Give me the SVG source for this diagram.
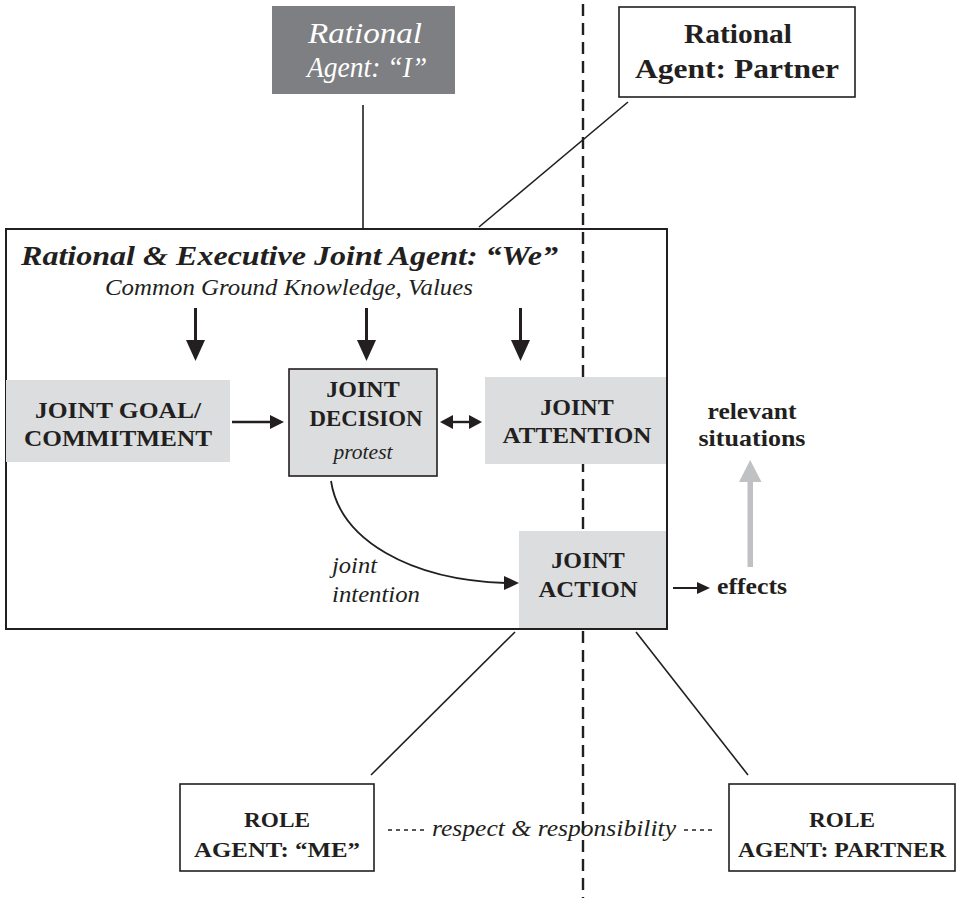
<svg xmlns="http://www.w3.org/2000/svg" width="968" height="898" viewBox="0 0 968 898">
<defs>
<style>
text{font-family:"Liberation Serif","Times New Roman",serif;fill:#231f20}
.b{font-weight:bold}
.i{font-style:italic}
.ln{stroke:#231f20;stroke-width:1.6;fill:none}
.gbox{fill:#dcdddf}
.wbox{fill:#fff;stroke:#231f20;stroke-width:1.6}
.cap{font-weight:bold;font-size:24px;text-anchor:middle}
.lab{font-style:italic;font-size:23px}
.rl{font-weight:bold;font-size:22px;text-anchor:middle}
</style>
</defs>
<rect width="968" height="898" fill="#fff"/>

<g id="divider"><line x1="583" y1="4" x2="583" y2="898" stroke="#231f20" stroke-width="2.4" stroke-dasharray="12,7"/></g>

<g id="connectors">
<line class="ln" x1="363" y1="105" x2="363" y2="229"/>
<line class="ln" x1="628" y1="102" x2="479" y2="227"/>
<line class="ln" x1="515" y1="632" x2="371" y2="775"/>
<line class="ln" x1="636" y1="632" x2="748" y2="775"/>
<g fill="#231f20">
<rect x="194" y="308" width="3" height="34"/><path d="M186,340L205,340L195.5,361z"/>
<rect x="365" y="308" width="3" height="34"/><path d="M357,340L376,340L366.5,361z"/>
<rect x="519" y="308" width="3" height="34"/><path d="M511,340L530,340L520.5,361z"/>
</g>
<line x1="232" y1="422" x2="272" y2="422" stroke="#231f20" stroke-width="2.4"/>
<path d="M270,415L284,422L270,429z" fill="#231f20"/>
<line x1="450" y1="422" x2="472" y2="422" stroke="#231f20" stroke-width="2.4"/>
<path d="M453,415L440,422L453,429z" fill="#231f20"/>
<path d="M469,415L482,422L469,429z" fill="#231f20"/>
<path d="M331,481C340,540 410,580 506,583" fill="none" stroke="#231f20" stroke-width="1.8"/>
<path d="M504,576L519,583L504,590z" fill="#231f20"/>
<line x1="673" y1="588" x2="699" y2="588" stroke="#231f20" stroke-width="2"/>
<path d="M697,582L710,588L697,594z" fill="#231f20"/>
<rect x="747.5" y="480" width="5.5" height="87" fill="#c0c1c3"/>
<path d="M739,482L761.5,482L750.2,460z" fill="#c0c1c3"/>
<line x1="388" y1="830" x2="426" y2="830" stroke="#231f20" stroke-width="1.3" stroke-dasharray="4,4"/>
<line x1="684" y1="830" x2="714" y2="830" stroke="#231f20" stroke-width="1.3" stroke-dasharray="4,4"/>
</g>

<g id="rational-i">
<rect x="272" y="6" width="183" height="88" fill="#7e7f82"/>
<text x="365" y="43" class="i" font-size="29" text-anchor="middle" textLength="114" lengthAdjust="spacingAndGlyphs" style="fill:#fff">Rational</text>
<text x="367" y="77" class="i" font-size="29" text-anchor="middle" textLength="120" lengthAdjust="spacingAndGlyphs" style="fill:#fff">Agent: “I”</text>
</g>

<g id="rational-partner">
<rect class="wbox" x="619" y="7" width="236" height="90"/>
<text x="738" y="43" class="b" font-size="28" text-anchor="middle" textLength="108" lengthAdjust="spacingAndGlyphs">Rational</text>
<text x="737" y="78" class="b" font-size="28" text-anchor="middle" textLength="204" lengthAdjust="spacingAndGlyphs">Agent: Partner</text>
</g>

<g id="joint-agent">
<rect x="6" y="229" width="661" height="400" fill="none" stroke="#231f20" stroke-width="2"/>
<text x="21" y="265" class="b i" font-size="27" textLength="537" lengthAdjust="spacingAndGlyphs">Rational &amp; Executive Joint Agent: “We”</text>
<text x="105" y="295" class="i" font-size="23" textLength="368" lengthAdjust="spacingAndGlyphs">Common Ground Knowledge, Values</text>
</g>

<g id="joint-goal">
<rect class="gbox" x="6" y="380" width="224" height="82"/>
<text x="118" y="418" class="cap" textLength="166" lengthAdjust="spacingAndGlyphs">JOINT GOAL/</text>
<text x="118" y="446" class="cap" textLength="188" lengthAdjust="spacingAndGlyphs">COMMITMENT</text>
</g>

<g id="joint-decision">
<rect x="289" y="369" width="148" height="107" fill="#dcdddf" stroke="#231f20" stroke-width="1.6"/>
<text x="363" y="397" class="cap">JOINT</text>
<text x="366" y="426" class="cap" textLength="113" lengthAdjust="spacingAndGlyphs">DECISION</text>
<text x="363" y="459" class="i" font-size="21" text-anchor="middle" textLength="59" lengthAdjust="spacingAndGlyphs">protest</text>
</g>

<g id="joint-attention">
<rect class="gbox" x="485" y="377" width="181" height="87"/>
<text x="577" y="415" class="cap">JOINT</text>
<text x="577" y="443" class="cap" textLength="149" lengthAdjust="spacingAndGlyphs">ATTENTION</text>
</g>

<g id="joint-action">
<rect class="gbox" x="519" y="531" width="147" height="97"/>
<text x="588" y="568" class="cap">JOINT</text>
<text x="588" y="597" class="cap" textLength="99" lengthAdjust="spacingAndGlyphs">ACTION</text>
</g>

<g id="joint-intention-label">
<text x="332" y="573" class="lab" textLength="45" lengthAdjust="spacingAndGlyphs">joint</text>
<text x="332" y="602" class="lab" textLength="88" lengthAdjust="spacingAndGlyphs">intention</text>
</g>

<g id="effects"><text x="717" y="594" class="b" font-size="23" textLength="70" lengthAdjust="spacingAndGlyphs">effects</text></g>

<g id="relevant-situations">
<text x="752" y="419" class="b" font-size="23" text-anchor="middle" textLength="89" lengthAdjust="spacingAndGlyphs">relevant</text>
<text x="752" y="446" class="b" font-size="23" text-anchor="middle" textLength="107" lengthAdjust="spacingAndGlyphs">situations</text>
</g>

<g id="role-me">
<rect class="wbox" x="180" y="784" width="194" height="87"/>
<text x="277" y="827" class="rl" textLength="66" lengthAdjust="spacingAndGlyphs">ROLE</text>
<text x="277" y="857" class="rl" textLength="166" lengthAdjust="spacingAndGlyphs">AGENT: “ME”</text>
</g>

<g id="role-partner">
<rect class="wbox" x="729" y="784" width="226" height="87"/>
<text x="842" y="827" class="rl" textLength="66" lengthAdjust="spacingAndGlyphs">ROLE</text>
<text x="842" y="857" class="rl" textLength="208" lengthAdjust="spacingAndGlyphs">AGENT: PARTNER</text>
</g>

<g id="respect-label">
<text x="432" y="836" class="lab" textLength="244" lengthAdjust="spacingAndGlyphs">respect &amp; responsibility</text>
</g>
</svg>
